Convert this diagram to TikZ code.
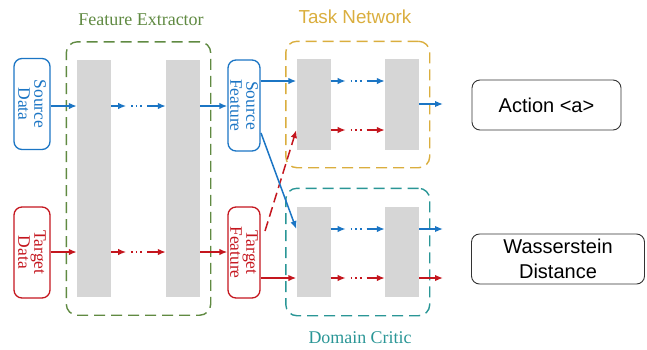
\documentclass[tikz,border=0pt]{standalone}
\usepackage{fontspec}
\setmainfont{Liberation Serif}
\newfontfamily\arialfont{Liberation Sans}
\usetikzlibrary{arrows.meta,calc,fit}

\definecolor{srcblue}{RGB}{27,117,196}
\definecolor{tgtred}{RGB}{196,22,30}
\definecolor{feGreen}{RGB}{96,138,66}
\definecolor{tnGold}{RGB}{218,174,62}
\definecolor{dcTeal}{RGB}{42,150,150}
\definecolor{barGrey}{RGB}{214,214,214}

% a layer-to-layer link: arrow, dots, arrow
\newcommand{\layerlink}[3]{%
  \draw[#1,flow] (#2) -- ++(15,0);
  \draw[#1,dots] ($(#2)+(20,0)$) -- ++(12,0);
  \draw[#1,flow] ($(#2)+(36,0)$) -- (#3);}

\begin{document}
\begin{tikzpicture}[x=1pt,y=-1pt,
  bar/.style={fill=barGrey,draw=none,minimum width=34pt,inner sep=0pt},
  iobox/.style={draw,line width=1.3pt,rounded corners=8pt,rotate=-90,
    minimum width=91pt,align=center,inner sep=0pt,
    font=\fontsize{17.5}{16}\selectfont},
  outbox/.style={draw=black!80,line width=0.9pt,rounded corners=8pt,
    align=center,inner sep=0pt,font=\arialfont\fontsize{20}{25}\selectfont},
  group/.style={dashed,dash pattern=on 11pt off 6pt,line width=1.4pt,
    rounded corners=11pt,inner xsep=10.5pt,inner ysep=18pt},
  flow/.style={line width=1.5pt,-{Latex[length=8pt,width=6.5pt]}},
  dots/.style={line width=1.6pt,dash pattern=on 1.6pt off 3pt},
  src/.style={srcblue},
  tgt/.style={tgtred}]
\useasboundingbox (0,0) rectangle (647,349);

% feature extractor layers
\node[bar,minimum height=237pt] (fe1) at (94,178.5) {};
\node[bar,minimum height=237pt] (fe2) at (183,178.5) {};
% task network layers
\node[bar,minimum height=91pt] (tn1) at (313.5,104.5) {};
\node[bar,minimum height=91pt] (tn2) at (402,104.5) {};
% domain critic layers
\node[bar,minimum height=90pt] (dc1) at (313.5,252) {};
\node[bar,minimum height=90pt] (dc2) at (402,252) {};

% groups
\node[group,draw=feGreen,fit=(fe1)(fe2)] (fe) {};
\node[group,draw=tnGold,fit=(tn1)(tn2),inner ysep=17.5pt] (tn) {};
\node[group,draw=dcTeal,fit=(dc1)(dc2),inner ysep=18.5pt] (dc) {};
\node[text=feGreen,font=\fontsize{18}{20}\selectfont] (feLabel) at (141,20) {Feature Extractor};
\node[text=tnGold,font=\arialfont\fontsize{18.8}{20}\selectfont] (tnLabel) at (355,17) {Task Network};
\node[text=dcTeal,font=\fontsize{17.9}{20}\selectfont] (dcLabel) at (360,338) {Domain Critic};

% inputs and features
\node[iobox,draw=srcblue,text=srcblue,minimum height=36pt] (sd) at (32,104) {Source\\Data};
\node[iobox,draw=tgtred,text=tgtred,minimum height=36pt] (td) at (32,252.5) {Target\\Data};
\node[iobox,draw=srcblue,text=srcblue,minimum height=32pt] (sf) at (244,105.5) {Source\\Feature};
\node[iobox,draw=tgtred,text=tgtred,minimum height=32pt] (tf) at (244,252.5) {Target\\Feature};

% outputs
\node[outbox,minimum width=149pt,minimum height=50pt] (act) at (546.5,105) {Action <a>};
\node[outbox,minimum width=173pt,minimum height=50pt] (wd) at (558,259) {Wasserstein\\Distance};

% rows
\coordinate (rowS) at (0,106);
\coordinate (rowT) at (0,252);
\coordinate (tnS) at (0,81);
\coordinate (tnT) at (0,130);
\coordinate (dcS) at (0,229);
\coordinate (dcT) at (0,278);

% feature extractor flow
\draw[src,flow] (sd.north |- rowS) -- (fe1.west |- rowS);
\draw[tgt,flow] (td.north |- rowT) -- (fe1.west |- rowT);
\layerlink{src}{fe1.east |- rowS}{fe2.west |- rowS}
\layerlink{tgt}{fe1.east |- rowT}{fe2.west |- rowT}
\draw[src,flow] (fe2.east |- rowS) -- (sf.south |- rowS);
\draw[tgt,flow] (fe2.east |- rowT) -- (tf.south |- rowT);

% task network flow
\draw[src,flow] (sf.north |- tnS) -- (tn1.west |- tnS);
\coordinate (tfUp) at (265,231);
\draw[tgt,flow,dashed,dash pattern=on 10pt off 5pt] (tfUp) -- (tn1.west |- tnT);
\layerlink{src}{tn1.east |- tnS}{tn2.west |- tnS}
\layerlink{tgt}{tn1.east |- tnT}{tn2.west |- tnT}
\coordinate (actIn) at (443,104);
\draw[src,flow] (tn2.east |- actIn) -- (actIn);

% domain critic flow
\coordinate (sfLow) at (261,133);
\draw[src,flow] (sfLow) -- (dc1.west |- dcS);
\draw[tgt,flow] (tf.north |- dcT) -- (dc1.west |- dcT);
\layerlink{src}{dc1.east |- dcS}{dc2.west |- dcS}
\layerlink{tgt}{dc1.east |- dcT}{dc2.west |- dcT}
\coordinate (wdS) at (443,229);
\coordinate (wdT) at (443,278);
\draw[src,flow] (dc2.east |- wdS) -- (wdS);
\draw[tgt,flow] (dc2.east |- wdT) -- (wdT);
\end{tikzpicture}
\end{document}
